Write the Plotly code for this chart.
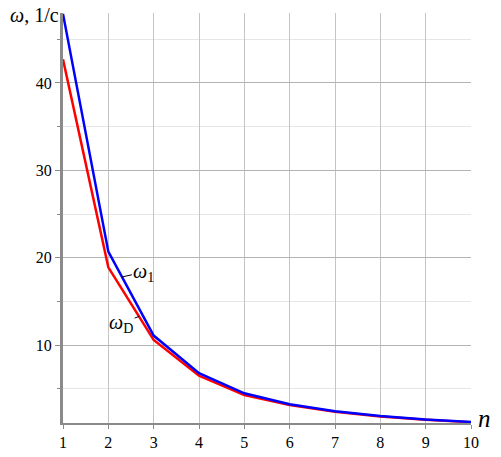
import plotly.graph_objects as go

##### Data #####
n_values = [1, 2, 3, 4, 5, 6, 7, 8, 9, 10]
omega_1 = [47.9, 20.7, 11.1, 6.8, 4.5, 3.25, 2.45, 1.9, 1.5, 1.22]
omega_D = [42.7, 18.9, 10.6, 6.5, 4.3, 3.15, 2.4, 1.85, 1.47, 1.2]
x_ticks = [1, 2, 3, 4, 5, 6, 7, 8, 9, 10]
y_ticks = [10, 20, 30, 40]

SERIF = "Liberation Serif, Times New Roman, serif"

fig = go.Figure()

# red first so the blue curve sits on top where they overlap
fig.add_trace(go.Scatter(x=n_values, y=omega_D, mode="lines",
                         line=dict(color="#ff0000", width=2.5), showlegend=False))
fig.add_trace(go.Scatter(x=n_values, y=omega_1, mode="lines",
                         line=dict(color="#0000ff", width=2.5), showlegend=False))

# curve labels with short leader lines
fig.add_annotation(x=2.3, y=17.8, text="<i>ω</i><sub>1</sub>", showarrow=True,
                   arrowhead=0, arrowwidth=1, arrowcolor="black", standoff=0,
                   ax=22, ay=-5, font=dict(family=SERIF, size=20, color="black"))
fig.add_annotation(x=2.68, y=13.3, text="<i>ω</i><sub>D</sub>", showarrow=True,
                   arrowhead=0, arrowwidth=1, arrowcolor="black", standoff=0,
                   ax=-18, ay=7, font=dict(family=SERIF, size=20, color="black"))

# axis titles
fig.add_annotation(x=0, y=1.0, xref="paper", yref="paper", xanchor="right", yanchor="middle",
                   xshift=-2, yshift=-2, text="<i>ω</i>, 1/с", showarrow=False,
                   font=dict(family=SERIF, size=20, color="black"))
fig.add_annotation(x=1, y=0, xref="paper", yref="paper", xanchor="left", yanchor="middle",
                   xshift=5, yshift=5, text="<i>n</i>", showarrow=False,
                   font=dict(family=SERIF, size=25, color="black"))

fig.update_xaxes(range=[1, 10], tickvals=x_ticks, showgrid=True, gridcolor="#c4c4c4",
                 gridwidth=1, showline=True, linecolor="#8a8a8a", linewidth=2,
                 ticks="outside", ticklen=4, tickcolor="#8a8a8a", zeroline=False,
                 tickfont=dict(family=SERIF, size=16, color="black"))
fig.update_yaxes(range=[1.1, 48], tickvals=y_ticks, showgrid=True, gridcolor="#b4b4b4",
                 gridwidth=1, showline=True, linecolor="#8a8a8a", linewidth=3,
                 ticks="outside", ticklen=5, tickcolor="#8a8a8a", zeroline=False,
                 tickfont=dict(family=SERIF, size=16, color="black"),
                 minor=dict(tickvals=[5, 15, 25, 35, 45], showgrid=True, gridcolor="#e6e6e6",
                            ticks="outside", ticklen=3, tickcolor="#8a8a8a"))

# the page puts the figure 8px in from the corner, so size and margins allow for that
fig.update_layout(width=493, height=449, plot_bgcolor="white", paper_bgcolor="white",
                  margin=dict(l=55, r=30, t=5, b=34))

fig.write_html("out.html")
